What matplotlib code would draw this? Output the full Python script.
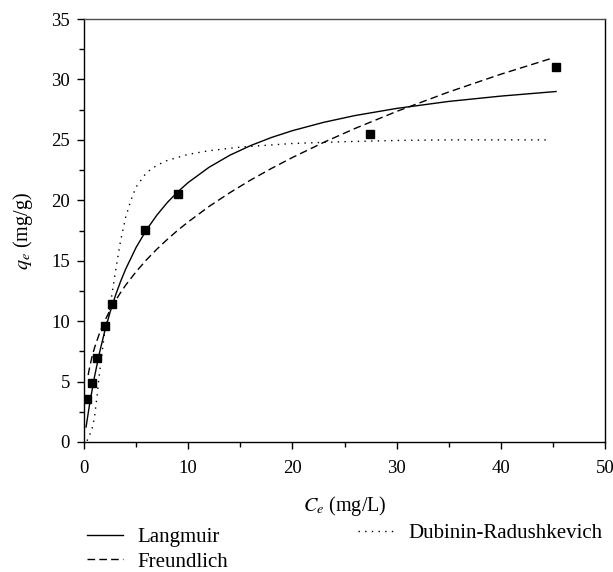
import matplotlib
matplotlib.use("Agg")
import matplotlib.pyplot as plt
from matplotlib.ticker import MultipleLocator

# Experimental data
ce_exp = [0.27, 0.72, 1.2, 1.98, 2.66, 5.9, 9.0, 27.4, 45.3]
qe_exp = [3.55, 4.9, 6.95, 9.6, 11.4, 17.55, 20.5, 25.5, 31.0]

# Model curves
lang_c = [0.2, 0.5, 1, 1.5, 2, 2.5, 3, 3.5, 4, 5, 6, 7, 8, 9, 10, 12, 14, 16, 18, 20, 23, 26, 30, 35, 40, 45.3]
lang_q = [1.24, 2.93, 5.37, 7.43, 9.2, 10.73, 12.08, 13.26, 14.31, 16.1, 17.56, 18.78, 19.82, 20.7, 21.47,
          22.73, 23.73, 24.53, 25.2, 25.76, 26.45, 27.01, 27.6, 28.18, 28.62, 29.0]

freu_c = [0.4, 0.5, 0.75, 1, 1.5, 2, 2.5, 3, 3.5, 4, 5, 6, 7, 8, 9, 10, 12, 14, 16, 18, 20, 23, 26, 30, 35, 40, 45]
freu_q = [5.54, 6.01, 6.99, 7.77, 9.03, 10.04, 10.91, 11.67, 12.35, 12.98, 14.09, 15.08, 15.96, 16.77, 17.52,
          18.21, 19.49, 20.63, 21.68, 22.64, 23.54, 24.79, 25.94, 27.35, 28.96, 30.43, 31.78]

dr_c = [0.3, 0.5, 0.75, 1.0, 1.25, 1.5, 1.75, 2.0, 2.5, 3.0, 3.5, 4.0, 4.5, 5, 6, 7, 8, 10, 12, 15, 20, 25, 30, 35, 40, 44.6]
dr_q = [0.1, 0.5, 1.0, 2.0, 3.8, 5.8, 7.5, 9.2, 11.2, 14.0, 16.6, 18.6, 20.0, 21.1, 22.3, 22.9, 23.3, 23.8,
        24.1, 24.4, 24.7, 24.85, 24.95, 25.0, 25.0, 25.0]

labels = ["Langmuir", "Freundlich", "Dubinin-Radushkevich"]

plt.rcParams['font.family'] = ['Liberation Serif', 'DejaVu Serif']
plt.rcParams['mathtext.fontset'] = 'stix'
plt.rcParams['font.size'] = 14

fig = plt.figure(figsize=(6.13, 5.72), dpi=100)
ax = fig.add_axes([84/613, 1-442/572, (605-84)/613, (442-19)/572])

l1, = ax.plot(lang_c, lang_q, color='black', lw=1.0, ls='-', label=labels[0])
l2, = ax.plot(freu_c, freu_q, color='black', lw=1.0, ls=(0, (5.5, 3)), label=labels[1])
l3, = ax.plot(dr_c, dr_q, color='black', lw=1.0, ls=(0, (1, 3.8)), label=labels[2])
ax.plot(ce_exp, qe_exp, ls='none', marker='s', ms=6, color='black')

ax.set_xlim(0, 50)
ax.set_ylim(0, 35)
ax.xaxis.set_major_locator(MultipleLocator(10))
ax.xaxis.set_minor_locator(MultipleLocator(5))
ax.yaxis.set_major_locator(MultipleLocator(5))
ax.yaxis.set_minor_locator(MultipleLocator(2.5))
ax.tick_params(which='major', direction='out', length=5, width=1, pad=5, labelsize=13.5)
ax.tick_params(axis='x', which='major', pad=8)
ax.tick_params(which='minor', direction='out', length=3.5, width=1)
for s in ax.spines.values():
    s.set_linewidth(1.0)
ax.spines['top'].set_color('0.3')

ax.set_xlabel(r"$C_e$ (mg/L)", fontsize=14.5, labelpad=12)
ax.set_ylabel(r"$q_e$ (mg/g)", fontsize=14.5, labelpad=12)

leg1 = fig.legend(handles=[l1, l2], loc='center left', bbox_to_anchor=(87/613, 1-549.5/572),
                  frameon=False, fontsize=15, handlelength=1.75, handletextpad=0.65,
                  labelspacing=0.25, borderpad=0, borderaxespad=0)
leg2 = fig.legend(handles=[l3], loc='center left', bbox_to_anchor=(358/613, 1-533/572),
                  frameon=False, fontsize=15, handlelength=1.75, handletextpad=0.65,
                  borderpad=0, borderaxespad=0)

fig.savefig("out.png", dpi=100)
